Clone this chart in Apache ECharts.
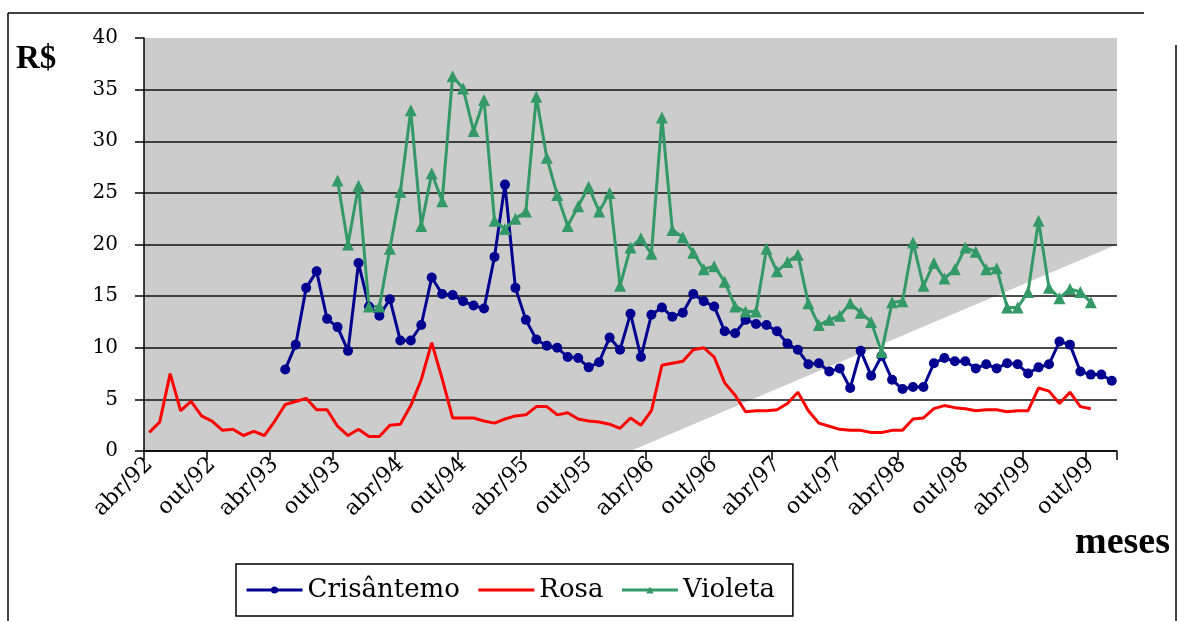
<!DOCTYPE html>
<html>
<head>
<meta charset="utf-8">
<script src="https://cdn.jsdelivr.net/npm/echarts@6/dist/echarts.min.js"></script>
<style>
html,body{margin:0;padding:0;background:#fff;}
#chart{width:1178px;height:621px;}
</style>
</head>
<body>
<div id="chart"></div>
<script>
// Month categories abr/92 .. dez/99
const months = [
 'abr/92','mai/92','jun/92','jul/92','ago/92','set/92','out/92','nov/92','dez/92',
 'jan/93','fev/93','mar/93','abr/93','mai/93','jun/93','jul/93','ago/93','set/93','out/93','nov/93','dez/93',
 'jan/94','fev/94','mar/94','abr/94','mai/94','jun/94','jul/94','ago/94','set/94','out/94','nov/94','dez/94',
 'jan/95','fev/95','mar/95','abr/95','mai/95','jun/95','jul/95','ago/95','set/95','out/95','nov/95','dez/95',
 'jan/96','fev/96','mar/96','abr/96','mai/96','jun/96','jul/96','ago/96','set/96','out/96','nov/96','dez/96',
 'jan/97','fev/97','mar/97','abr/97','mai/97','jun/97','jul/97','ago/97','set/97','out/97','nov/97','dez/97',
 'jan/98','fev/98','mar/98','abr/98','mai/98','jun/98','jul/98','ago/98','set/98','out/98','nov/98','dez/98',
 'jan/99','fev/99','mar/99','abr/99','mai/99','jun/99','jul/99','ago/99','set/99','out/99','nov/99','dez/99'
];

// Rosa: from abr/92 (index 0)
const rosaStart = 0;
const rosa = [1.8,2.8,7.5,3.9,4.8,3.4,2.9,2.0,2.1,1.5, 1.9,1.5,2.9,4.5,4.8,5.1,4.0,4.0,2.4,1.5,
 2.1,1.4,1.4,2.5,2.6,4.4,6.9,10.5,7.0,3.2, 3.2,3.2,2.9,2.7,3.1,3.4,3.5,4.3,4.3,3.5,
 3.7,3.1,2.9,2.8,2.6,2.2,3.2,2.5,3.9,8.3, 8.5,8.7,9.8,10.0,9.1,6.6,5.4,3.8,3.9,3.9,
 4.0,4.6,5.7,3.9,2.7,2.4,2.1,2.0,2.0,1.8, 1.8,2.0,2.0,3.1,3.2,4.1,4.4,4.2,4.1,3.9,
 4.0,4.0,3.8,3.9,3.9,6.1,5.8,4.6,5.7,4.3, 4.1];

// Crisântemo: from mai/93 (index 13)
const crisStart = 13;
const crisantemo = [7.9,10.3,15.8,17.4,12.8,12.0,9.7,18.2,14.0,13.1,
 14.7,10.7,10.7,12.2,16.8,15.2,15.1,14.5,14.1,13.8,
 18.8,25.8,15.8,12.7,10.8,10.2,10.0,9.1,9.0,8.1,
 8.6,11.0,9.8,13.3,9.1,13.2,13.9,13.0,13.4,15.2,
 14.5,14.0,11.6,11.4,12.7,12.3,12.2,11.6,10.4,9.8,
 8.4,8.5,7.7,8.0,6.1,9.7,7.3,9.2,6.9,6.0,
 6.2,6.2,8.5,9.0,8.7,8.7,8.0,8.4,8.0,8.5,
 8.4,7.5,8.1,8.4,10.6,10.3,7.7,7.4,7.4,6.8];

// Violeta: from out/93 (index 18)
const violStart = 18;
const violeta = [26.2,20.0,25.7,14.0,14.0,19.6,25.1,33.0,21.8,26.9,
 24.2,36.3,35.1,31.0,34.0,22.3,21.5,22.5,23.2,34.3,
 28.4,24.8,21.8,23.7,25.6,23.2,25.0,16.0,19.7,20.6,
 19.1,32.3,21.4,20.7,19.2,17.6,17.9,16.4,14.0,13.5,
 13.5,19.6,17.4,18.3,19.0,14.3,12.2,12.7,13.1,14.3,
 13.4,12.5,9.6,14.4,14.5,20.2,16.0,18.2,16.7,17.6,
 19.7,19.3,17.6,17.7,13.9,13.9,15.4,22.3,15.8,14.8,
 15.7,15.4,14.4];

const seriesNames = ['Crisântemo','Rosa','Violeta'];
const yTicks = [0,5,10,15,20,25,30,35,40];
// decorative white wedge in the plot background (x in category units, y in R$)
const wedge = [[46.5,0],[93,20]];

function pad(start, vals){
  const out = new Array(months.length).fill(null);
  vals.forEach((v,i)=>{ out[start+i] = v; });
  return out;
}

const serif = 'DejaVu Serif';
const chart = echarts.init(document.getElementById('chart'), null, {renderer:'canvas'});
chart.setOption({
  animation:false,
  backgroundColor:'#fff',
  title:[
    {text:'R$', left:11, top:38, textStyle:{fontFamily:'Liberation Serif', fontWeight:'bold', fontSize:33, color:'#000'}},
    {text:'meses', left:1070, top:519, textStyle:{fontFamily:'Liberation Serif', fontWeight:'bold', fontSize:38, color:'#000'}}
  ],
  graphic:[
    {type:'line', shape:{x1:8,y1:13,x2:1144,y2:13}, style:{stroke:'#000', lineWidth:1.5}},
    {type:'line', shape:{x1:8,y1:13,x2:8,y2:621}, style:{stroke:'#000', lineWidth:1.5}},
    {type:'line', shape:{x1:1176,y1:45,x2:1176,y2:621}, style:{stroke:'#000', lineWidth:1.5}}
  ],
  grid:{left:144, top:38, width:973, height:413, show:true, backgroundColor:'#cccccc', borderWidth:0},
  legend:{
    data:[{name:'Crisântemo'},{name:'Rosa', itemStyle:{opacity:0}},{name:'Violeta'}],
    left:236, top:564, orient:'horizontal',
    borderColor:'#000', borderWidth:1.5, padding:[13,18,13,9], itemGap:17,
    itemWidth:56, itemHeight:9,
    lineStyle:{width:3},
    textStyle:{fontFamily:serif, fontSize:26, color:'#000'}
  },
  xAxis:[
    {type:'category', data:months, boundaryGap:true, z:3,
     axisLine:{show:true, lineStyle:{color:'#000', width:1.5}},
     axisTick:{show:true, interval:5, length:9, lineStyle:{color:'#000', width:1.5}},
     axisLabel:{interval:5, rotate:45, margin:10, fontFamily:serif, fontSize:22, color:'#000'},
     splitLine:{show:false}},
    {type:'value', min:0, max:93, show:false}
  ],
  yAxis:{type:'value', min:yTicks[0], max:yTicks[yTicks.length-1], interval:5, z:3,
    axisLine:{show:true, lineStyle:{color:'#000', width:1.5}},
    axisTick:{show:true, length:9, lineStyle:{color:'#000', width:1.5}},
    axisLabel:{margin:26, fontFamily:serif, fontSize:20, color:'#000'},
    splitLine:{show:true, showMaxLine:false, lineStyle:{color:'#111', width:1.5}}
  },
  series:[
    {name:'wedge', type:'line', xAxisIndex:1, data:wedge, symbol:'none', silent:true, z:1,
     lineStyle:{width:0, opacity:0}, areaStyle:{color:'#ffffff', opacity:1}},
    {name:'Crisântemo', type:'line', data:pad(crisStart, crisantemo), z:5,
     symbol:'circle', symbolSize:10, showAllSymbol:true, connectNulls:false,
     itemStyle:{color:'#000090'}, lineStyle:{color:'#000090', width:3}},
    {name:'Rosa', type:'line', data:pad(rosaStart, rosa), z:5,
     symbol:'none', showSymbol:false,
     itemStyle:{color:'#ff0000'}, lineStyle:{color:'#ff0000', width:3}},
    {name:'Violeta', type:'line', data:pad(violStart, violeta), z:5,
     symbol:'triangle', symbolSize:12, showAllSymbol:true,
     itemStyle:{color:'#339966'}, lineStyle:{color:'#339966', width:3}}
  ]
});
</script>
</body>
</html>
